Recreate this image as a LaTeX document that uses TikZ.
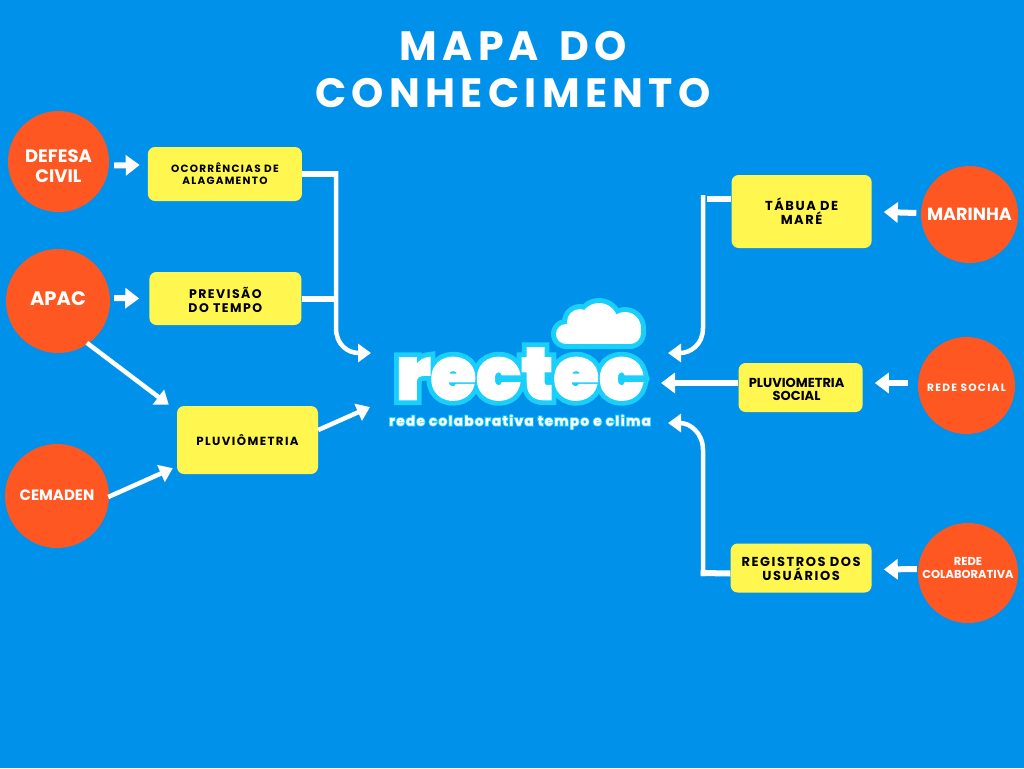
\documentclass[tikz,border=0pt]{standalone}
\usepackage{fontspec}
\usepackage{tikz}
\usetikzlibrary{arrows.meta,positioning}
\setmainfont{Poppins}
\newfontfamily\titlefont[LetterSpace=13]{Poppins}
\newfontfamily\boxfont[LetterSpace=12]{Poppins}
\newfontfamily\logofont[FakeBold=2]{Poppins Black}
\newfontfamily\logoglow[FakeBold=15]{Poppins Black}
\newfontfamily\tagfont[LetterSpace=10,FakeBold=1]{Poppins}
\newfontfamily\tagglow[LetterSpace=10,FakeBold=14]{Poppins}
\definecolor{skybg}{HTML}{0091EA}
\definecolor{orangefill}{HTML}{FF5722}
\definecolor{yellowfill}{HTML}{FFF74F}
\definecolor{glowcyan}{HTML}{19CFFB}

\begin{document}
\begin{tikzpicture}[
  x=1pt, y=-1pt,
  source/.style={circle, fill=orangefill, text=white, inner sep=0pt,
                 font=\bfseries, align=center},
  product/.style={fill=yellowfill, rounded corners=7pt, inner sep=0pt,
                  font=\boxfont\bfseries\fontsize{10.5}{12}\selectfont, align=center},
  arr/.style={-{Triangle[length=14pt,width=20pt]}, white, line width=6pt},
  thinarr/.style={-{Triangle[length=13pt,width=18pt]}, white, line width=4.5pt},
  trunk/.style={white, line width=6pt}
]
\useasboundingbox (0,0) rectangle (1024,768);
\fill[skybg] (0,0) rectangle (1024,768);

\node[text=white, align=center, font=\titlefont\bfseries\fontsize{41}{47}\selectfont] (title) at (513,69.5) {MAPA\hspace{6pt} DO\\CONHECIMENTO};

% sources
\node[source, minimum size=101pt, font=\bfseries\fontsize{18}{20}\selectfont] (defesa) at (58.5,161.5) {\rule{0pt}{23pt}DEFESA\\CIVIL};
\node[source, minimum size=104pt, font=\bfseries\fontsize{19.5}{20}\selectfont] (apac) at (58,301) {APAC\rule[-4pt]{0pt}{4pt}};
\node[source, minimum size=104pt, font=\bfseries\fontsize{15}{16}\selectfont] (cemaden) at (57,496) {CEMADEN\rule[-2pt]{0pt}{2pt}};
\node[source, minimum size=97pt, font=\bfseries\fontsize{17.6}{20}\selectfont] (marinha) at (969.5,214.5) {MARINHA};
\node[source, minimum size=97pt, font=\boxfont\bfseries\fontsize{10.6}{12}\selectfont] (social) at (966.5,385.5) {\rule{0pt}{11.5pt}REDE SOCIAL};
\node[source, minimum size=100pt, font=\bfseries\fontsize{11.5}{13}\selectfont] (colab) at (968,573) {REDE\\COLABORATIVA\rule[-10pt]{0pt}{10pt}};

% products
\node[product, minimum width=154pt, minimum height=54pt, right=38.5pt of defesa, yshift=-12.5pt] (ocorr) {OCORRÊNCIAS DE\\ALAGAMENTO};
\node[product, minimum width=152pt, minimum height=53pt, right=39pt of apac, yshift=2.5pt, font=\boxfont\bfseries\fontsize{12.5}{14}\selectfont] (prev) {\rule{0pt}{15pt}PREVISÃO\\DO TEMPO};
\node[product, minimum width=141pt, minimum height=68pt, font=\boxfont\bfseries\fontsize{11.8}{13}\selectfont] (pluvio) at (247.5,440) {PLUVIÔMETRIA};
\node[product, minimum width=140pt, minimum height=73pt, left=49pt of marinha, font=\boxfont\bfseries\fontsize{13}{14}\selectfont, yshift=3pt] (tabua) {\rule{0pt}{11pt}TÁBUA DE\\MARÉ};
\node[product, minimum width=124pt, minimum height=49pt, left=55pt of social, font=\bfseries\fontsize{13}{13}\selectfont, yshift=-2pt] (psocial) {\rule{0pt}{13pt}PLUVIOMETRIA\rule{8pt}{0pt}\\SOCIAL\rule{8pt}{0pt}};
\node[product, minimum width=141pt, minimum height=49pt, left=46pt of colab, font=\boxfont\bfseries\fontsize{13}{14}\selectfont, yshift=5pt] (regist) {\rule{0pt}{11pt}REGISTROS DOS\\USUÁRIOS};

% logo
\foreach \cx/\cy/\cr in {566/334/10, 580/322/13, 599/322/19, 625/328/16, 630/333/11}
  \fill[glowcyan] (\cx,\cy) circle (\cr+5);
\fill[glowcyan] (566,327) rectangle (630,349);
\foreach \cx/\cy/\cr in {566/334/10, 580/322/13, 599/322/19, 625/328/16, 630/333/11}
  \fill[white] (\cx,\cy) circle (\cr);
\fill[white] (566,325) rectangle (630,344);

\node[text=glowcyan, font=\logoglow\fontsize{74}{74}\selectfont] (rectecglow) at (520,374) {rectec};
\node[text=white, font=\logofont\fontsize{74}{74}\selectfont] (rectec) at (520,374) {rectec};
\node[text=glowcyan, font=\tagglow\bfseries\fontsize{13.5}{13.5}\selectfont] (tagglow) at (520,422) {rede colaborativa tempo e clima};
\node[text=white, font=\tagfont\bfseries\fontsize{13.5}{13.5}\selectfont] (tagline) at (520,422) {rede colaborativa tempo e clima};

\coordinate (inleft) at (371,353);
\coordinate (inpluvio) at (370,407);
\coordinate (inright) at (668,353);
\coordinate (inmid) at (661,383);
\coordinate (inlow) at (668,423);
\coordinate (tabuaend) at (707,199);

% arrows into the products
\draw[arr] ([shift={(5,4)}]defesa.east) -- ([shift={(-8,-9)}]ocorr.west);
\draw[arr] ([shift={(4,-3)}]apac.east) -- ([shift={(-10,0)}]prev.west);
\draw[thinarr] ([shift={(-8,5)}]apac.south east) -- ([shift={(-8,-1)}]pluvio.north west);
\draw[thinarr] ([shift={(-1,1)}]cemaden.east) -- ([shift={(-4,-6)}]pluvio.south west);
\draw[arr] ([shift={(-4.5,-1.5)}]marinha.west) -- ([shift={(12,0.5)}]tabua.east);
\draw[arr] ([shift={(-10,-2.5)}]social.west) -- ([shift={(12,-4.5)}]psocial.east);
\draw[arr] ([shift={(-1,-4)}]colab.west) -- ([shift={(12,1.5)}]regist.east);

% arrows into the logo
\draw[trunk] (ocorr.east) -- (338,174);
\draw[thinarr] (336,171) -- (336,328) .. controls (336,345) and (348,353) .. (inleft);
\draw[trunk] (prev.east) -- (334,298.5);
\draw[thinarr] ([yshift=10pt]pluvio.east) -- (inpluvio);
\draw[trunk] ([yshift=12.5pt]tabua.west) -- (tabuaend);
\draw[thinarr] (703,195) -- (703,328) .. controls (703,345) and (690,353) .. (inright);
\draw[arr] ([yshift=4.5pt]psocial.west) -- (inmid);
\draw[trunk] ([yshift=-5.5pt]regist.west) -- (700.7,573);
\draw[thinarr] (703,576) -- (703,450) .. controls (703,433) and (690,423) .. (inlow);
\end{tikzpicture}
\end{document}
